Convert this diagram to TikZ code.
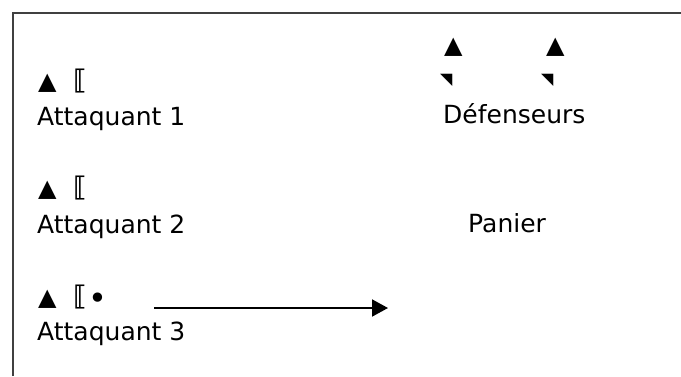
\documentclass[tikz,border=0pt]{standalone}
\usepackage{fontspec}
\setmainfont{DejaVu Sans}
\usetikzlibrary{arrows.meta}
\begin{document}
\begin{tikzpicture}[x=1pt,y=-1pt,
    txt/.style={anchor=base west,inner sep=0pt,font=\fontsize{25}{30}\selectfont},
    sym/.style={anchor=base west,inner sep=0pt,font=\fontsize{24}{28}\selectfont},
    brk/.style={anchor=base west,inner sep=0pt,font=\bfseries\fontsize{27}{30}\selectfont},
    small/.style={anchor=base west,inner sep=0pt,font=\fontsize{16}{18}\selectfont}]
  \useasboundingbox (0,0) rectangle (681,376);
  \draw[line width=2pt,black!75] (13,376) -- (13,13) -- (681,13);
  % attaquants
  \draw
    (38,89) node[sym] (t1){▲}
    (73,89) node[brk] (b1){⟦}
    (37,125) node[txt] (att1){Attaquant 1}
    (38,196) node[sym] (t2){▲}
    (73,196) node[brk] (b2){⟦}
    (37,233) node[txt] (att2){Attaquant 2}
    (38,305) node[sym] (t3){▲}
    (73,305) node[brk] (b3){⟦}
    (88,309) node[sym,font=\fontsize{32}{36}\selectfont] (ball){•}
    (37,340) node[txt] (att3){Attaquant 3};
  % defenseurs
  \draw
    (444,53) node[sym] (d1){▲}
    (546,53) node[sym] (d2){▲}
    (440,84) node[small] (s1){◥}
    (541,84) node[small] (s2){◥}
    (443,123) node[txt] (def){Défenseurs}
    (468,232) node[txt] (panier){Panier};
  % passe
  \coordinate (p1) at (154,308);
  \coordinate (p2) at (388,308);
  \draw[-{Triangle[length=16pt,width=17pt]},line width=2pt] (p1) -- (p2);
\end{tikzpicture}
\end{document}
